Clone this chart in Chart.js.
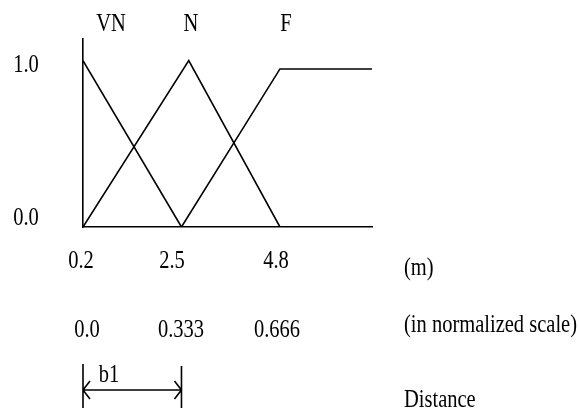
<!DOCTYPE html>
<html>
<head>
<meta charset="utf-8">
<script src="https://cdn.jsdelivr.net/npm/chart.js@4"></script>
<style>
  html, body { margin: 0; padding: 0; background: #fff; }
  #wrap { width: 579px; height: 408px; }
</style>
</head>
<body>
<div id="wrap"><canvas id="myChart" width="579" height="408"></canvas></div>
<script>
// membership functions for distance (x in metres, y = degree)
const vnX = [0.2, 2.5];
const vnY = [1.0, 0.0];
const nX = [0.2, 2.67, 4.8];
const nY = [0.0, 1.0, 0.0];
const fX = [2.5, 4.8, 6.95];
const fY = [0.0, 0.95, 0.95];

// labels
const setLabels = ['VN', 'N', 'F'];
const yTickLabels = ['1.0', '0.0'];
const meterTicks = ['0.2', '2.5', '4.8'];
const normTicks = ['0.0', '0.333', '0.666'];
const unitLabels = ['(m)', '(in normalized scale)', 'Distance'];
const spanLabel = 'b1';
const spanValues = [0.2, 2.5];

const toPoints = (xs, ys) => xs.map((x, i) => ({ x: x, y: ys[i] }));

// the scanned figure uses a tall, narrow Times face
const FONT = '25px "Liberation Serif", "Times New Roman", serif';
const SQUEEZE = 0.82;

// text placement (pixel layout of the figure annotations)
const setLabelX = [111, 191, 286];
const yTickY = [65, 218];
const meterTickX = [81, 172, 276];
const normTickX = [87, 181, 277];

function drawText(c, text, x, y, align) {
    c.save();
    c.translate(x, y);
    c.scale(SQUEEZE, 1);
    c.textAlign = align || 'center';
    c.fillText(text, 0, 0);
    c.restore();
}

const textPlugin = {
    id: 'figureText',
    afterDraw(chart) {
        const c = chart.ctx;
        const xs = chart.scales.x;
        c.save();
        c.fillStyle = '#000';
        c.font = FONT;
        c.textBaseline = 'middle';

        setLabels.forEach((t, i) => drawText(c, t, setLabelX[i], 24));
        yTickLabels.forEach((t, i) => drawText(c, t, 26, yTickY[i]));
        meterTicks.forEach((t, i) => drawText(c, t, meterTickX[i], 261));
        normTicks.forEach((t, i) => drawText(c, t, normTickX[i], 330));

        drawText(c, unitLabels[0], 404, 268, 'left');
        drawText(c, unitLabels[1], 404, 325, 'left');
        drawText(c, unitLabels[2], 404, 400, 'left');

        // b1 span arrow
        const x0 = xs.getPixelForValue(spanValues[0]);
        const x1 = xs.getPixelForValue(spanValues[1]);
        const ay = 390;
        c.strokeStyle = '#000';
        c.lineWidth = 1.6;
        c.beginPath();
        c.moveTo(x0, 364); c.lineTo(x0, 408);
        c.moveTo(x1, 366); c.lineTo(x1, 408);
        c.moveTo(x0, ay); c.lineTo(x1, ay);
        c.moveTo(x0 + 7, ay - 9); c.lineTo(x0, ay); c.lineTo(x0 + 7, ay + 9);
        c.moveTo(x1 - 7, ay - 9); c.lineTo(x1, ay); c.lineTo(x1 - 7, ay + 9);
        c.stroke();
        drawText(c, spanLabel, x0 + 26, 375);
        c.restore();
    }
};

const lineStyle = { borderColor: '#000', borderWidth: 1.6, pointRadius: 0, tension: 0, fill: false };

const ctx = document.getElementById('myChart').getContext('2d');
const myChart = new Chart(ctx, {
    type: 'line',
    data: {
        datasets: [
            Object.assign({ label: setLabels[0], data: toPoints(vnX, vnY) }, lineStyle),
            Object.assign({ label: setLabels[1], data: toPoints(nX, nY) }, lineStyle),
            Object.assign({ label: setLabels[2], data: toPoints(fX, fY) }, lineStyle)
        ]
    },
    options: {
        responsive: false,
        animation: false,
        layout: { padding: { left: 83, right: 207, top: 39, bottom: 181 } },
        plugins: { legend: { display: false }, tooltip: { enabled: false } },
        scales: {
            x: {
                type: 'linear', min: 0.2, max: 6.95,
                grid: { display: false, drawTicks: false },
                ticks: { display: false },
                border: { display: true, color: '#000', width: 1.6 }
            },
            y: {
                min: 0, max: 1.13,
                grid: { display: false, drawTicks: false },
                ticks: { display: false },
                border: { display: true, color: '#000', width: 1.6 }
            }
        }
    },
    plugins: [textPlugin]
});
</script>
</body>
</html>
